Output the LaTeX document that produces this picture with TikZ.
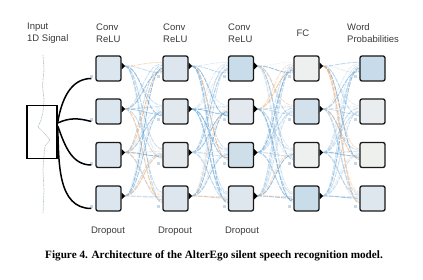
\documentclass[tikz,border=0pt]{standalone}
\usepackage{fontspec}
\setmainfont{Liberation Sans}
\newfontfamily\capfont{Liberation Serif}
\usetikzlibrary{calc}
\pgfdeclarelayer{background}
\pgfsetlayers{background,main}
\definecolor{txt}{HTML}{3A3A3A}
\definecolor{conn0}{HTML}{F0AA6C}
\definecolor{conn1}{HTML}{6FA8D6}
\definecolor{conn2}{HTML}{B3D0E8}
\definecolor{conn3}{HTML}{7DB1DB}
\definecolor{conn4}{HTML}{DDE3E8}
\definecolor{conn5}{HTML}{A9CBE6}
\definecolor{conn6}{HTML}{5E9ED2}
\definecolor{portc}{HTML}{C5D9EA}
\definecolor{sigc}{HTML}{B4C6C2}
\tikzset{
  unit/.style={draw=black!90, line width=1.3pt, rounded corners=2pt, minimum size=25pt, inner sep=0pt},
  lbl/.style={font=\fontsize{9.5}{12}\selectfont, text=txt, align=left, inner sep=0pt},
  conn/.style={line width=0.9pt, dash pattern=on 5pt off 1pt, opacity=0.68},
  wire/.style={line width=1.5pt, black},
}
\begin{document}
\begin{tikzpicture}[x=1pt,y=1pt]
\useasboundingbox (0,0) rectangle (423,-280);
% box positions
\foreach \c/\x in {1/108.5,2/175.5,3/241,4/306.5,5/372.5}{
  \foreach \r/\y in {1/68.5,2/111.5,3/155,4/198.5}{
    \coordinate (p\c\r) at (\x,-\y);
  }
}
\foreach \c/\r/\col in {1/1/DCE6EE,1/2/DCE6EE,1/3/DDE6EE,1/4/DCE6EE,
  2/1/DDE6EE,2/2/E1E8EE,2/3/E4E9ED,2/4/DDE6EE,
  3/1/C9DCEA,3/2/E3E9EE,3/3/CFDFEA,3/4/DFE7EE,
  4/1/EEF0EF,4/2/D2E1EC,4/3/EEF0EF,4/4/C9DCEA,
  5/1/C7DBEA,5/2/E9EDEF,5/3/EEF0EE,5/4/DFE7EE}{
  \definecolor{tmpc}{HTML}{\col}
  \node[unit, fill=tmpc] (b\c\r) at (p\c\r) {};
  \fill[portc] ([xshift=-5pt,yshift=-10pt]b\c\r.west) rectangle ++(3pt,3pt);
}
% output ports
\foreach \c in {1,...,4}{
  \foreach \r in {1,...,4}{
    \fill[black] ([yshift=6pt]b\c\r.east) -- ([xshift=3.5pt,yshift=2.5pt]b\c\r.east) -- ([yshift=-1pt]b\c\r.east) -- cycle;
  }
}
% connections
\begin{pgfonlayer}{background}
\foreach \c in {1,...,4}{
  \pgfmathtruncatemacro\d{\c+1}
  \foreach \i in {1,...,4}{
    \foreach \j in {1,...,4}{
      \pgfmathtruncatemacro\k{mod(3*\c+5*\i+7*\j+\i*\j,7)}
      \pgfmathtruncatemacro\m{mod(2*\c+3*\i+\j*\j+1,7)}
      \pgfmathsetmacro\ea{-2+1.6*(\i-2.5)}
      \pgfmathsetmacro\eb{4-1.4*(\i-2.5)}
      \draw[conn, draw=conn\k] ([xshift=3pt,yshift=2.5pt]b\c\i.east) .. controls +(17,0) and +(-17,0) .. ([yshift=\ea pt]b\d\j.west);
      \draw[conn, draw=conn\m, opacity=0.38] ([xshift=3pt,yshift=2.5pt]b\c\i.east) .. controls +(15,0) and +(-19,0) .. ([yshift=\eb pt]b\d\j.west);
    }
  }
}
\end{pgfonlayer}
% input signal
\draw[sigc, line width=0.7pt, dash pattern=on 1pt off 0.6pt] (43,-55) -- (44,-70) -- (42.5,-85) -- (44,-100) -- (43,-112) -- (41,-120) -- (38,-127) -- (44,-133) -- (50,-140) -- (45,-146) -- (44,-155) -- (43,-170) -- (44,-190) -- (43,-213);
\node[draw=black, line width=1.5pt, minimum width=30pt, minimum height=53pt, inner sep=0pt] (inp) at (42,-132) {};
% wires from input
\draw[wire] ([yshift=10pt]inp.east) to[out=80,in=180] ([xshift=-4pt,yshift=-10pt]b11.west);
\draw[wire] ([yshift=9pt]inp.east) to[out=25,in=165] ([xshift=-4pt,yshift=-10pt]b12.west);
\draw[wire] ([yshift=6pt]inp.east) to[out=-70,in=180] ([xshift=-4pt,yshift=-10pt]b13.west);
\draw[wire] ([yshift=4pt]inp.east) to[out=-88,in=180] ([xshift=-4pt,yshift=-10pt]b14.west);
% labels
\node[lbl, anchor=west] (tin) at (27,-33) {Input\\1D Signal};
\node[lbl, anchor=west] (t1) at (96,-33) {Conv\\ReLU};
\node[lbl, anchor=west] (t2) at (163,-33) {Conv\\ReLU};
\node[lbl, anchor=west] (t3) at (228,-33) {Conv\\ReLU};
\node[lbl] (t4) at (303,-33) {FC};
\node[lbl, anchor=west] (t5) at (347,-33) {Word\\Probabilities};
\node[lbl] (d1) at (108,-231) {Dropout};
\node[lbl] (d2) at (175,-231) {Dropout};
\node[lbl] (d3) at (242,-231) {Dropout};
\node[font=\capfont\bfseries\fontsize{11.2}{13}\selectfont, inner sep=0pt] (cap) at (214,-256) {Figure 4. Architecture of the AlterEgo silent speech recognition model.};
\end{tikzpicture}
\end{document}
